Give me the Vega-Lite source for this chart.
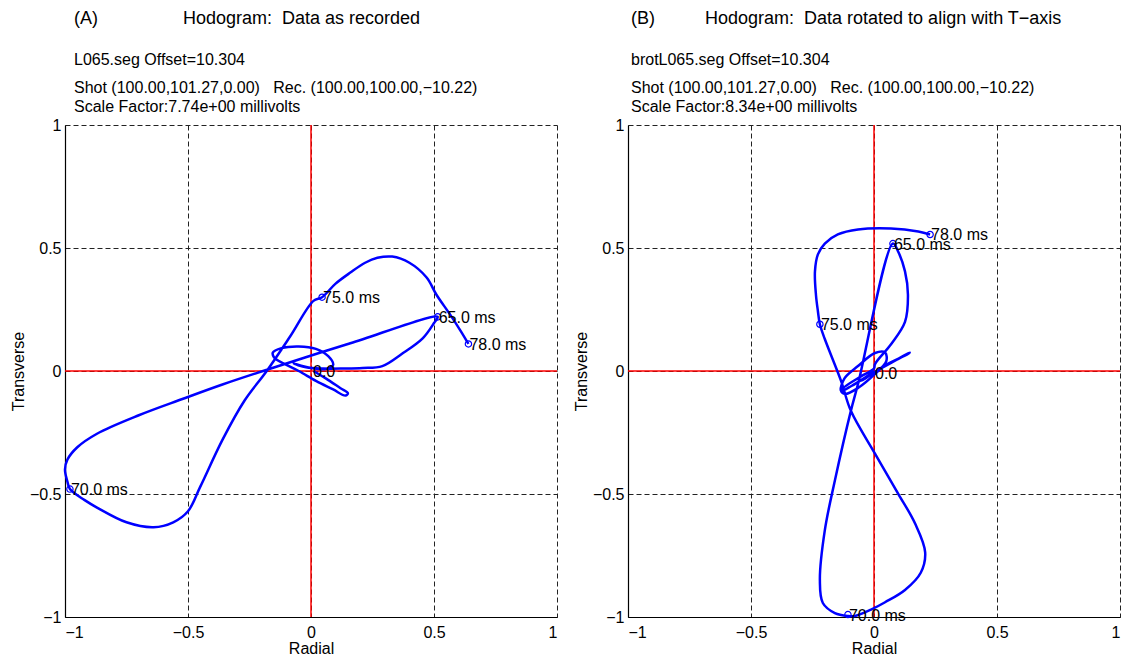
{
  "$schema": "https://vega.github.io/schema/vega-lite/v6.json",
  "background": "white",
  "padding": {"left": 10, "top": 10, "right": 4, "bottom": 0},
  "spacing": 15,
  "datasets": {
    "zero": [{"v": 0}],
    "a_path": [
      {"i": 0, "x": 0.01, "y": 0.0},
      {"i": 1, "x": 0.06, "y": -0.03},
      {"i": 2, "x": 0.12, "y": -0.07},
      {"i": 3, "x": 0.15, "y": -0.09},
      {"i": 4, "x": 0.14, "y": -0.1},
      {"i": 5, "x": 0.09, "y": -0.075},
      {"i": 6, "x": 0.02, "y": -0.04},
      {"i": 7, "x": -0.05, "y": 0.0},
      {"i": 8, "x": -0.11, "y": 0.03},
      {"i": 9, "x": -0.15, "y": 0.055},
      {"i": 10, "x": -0.155, "y": 0.075},
      {"i": 11, "x": -0.12, "y": 0.093},
      {"i": 12, "x": -0.05, "y": 0.1},
      {"i": 13, "x": 0.02, "y": 0.09},
      {"i": 14, "x": 0.07, "y": 0.06},
      {"i": 15, "x": 0.09, "y": 0.025},
      {"i": 16, "x": 0.06, "y": 0.008},
      {"i": 17, "x": 0.0, "y": 0.012},
      {"i": 18, "x": -0.07, "y": 0.03},
      {"i": 19, "x": -0.02, "y": 0.015},
      {"i": 20, "x": 0.05, "y": 0.01},
      {"i": 21, "x": 0.13, "y": 0.01},
      {"i": 22, "x": 0.21, "y": 0.012},
      {"i": 23, "x": 0.29, "y": 0.02},
      {"i": 24, "x": 0.37, "y": 0.07},
      {"i": 25, "x": 0.455, "y": 0.134},
      {"i": 26, "x": 0.5, "y": 0.195},
      {"i": 27, "x": 0.515, "y": 0.22},
      {"i": 28, "x": 0.16, "y": 0.113},
      {"i": 29, "x": -0.195, "y": 0.0},
      {"i": 30, "x": -0.36, "y": -0.055},
      {"i": 31, "x": -0.52, "y": -0.113},
      {"i": 32, "x": -0.7, "y": -0.18},
      {"i": 33, "x": -0.87, "y": -0.255},
      {"i": 34, "x": -0.95, "y": -0.31},
      {"i": 35, "x": -0.99, "y": -0.36},
      {"i": 36, "x": -1.0, "y": -0.4},
      {"i": 37, "x": -0.99, "y": -0.45},
      {"i": 38, "x": -0.98, "y": -0.48},
      {"i": 39, "x": -0.92, "y": -0.525},
      {"i": 40, "x": -0.87, "y": -0.555},
      {"i": 41, "x": -0.75, "y": -0.615},
      {"i": 42, "x": -0.64, "y": -0.635},
      {"i": 43, "x": -0.56, "y": -0.615},
      {"i": 44, "x": -0.5, "y": -0.57},
      {"i": 45, "x": -0.45, "y": -0.47},
      {"i": 46, "x": -0.36, "y": -0.28},
      {"i": 47, "x": -0.27, "y": -0.12},
      {"i": 48, "x": -0.18, "y": 0.0},
      {"i": 49, "x": -0.085, "y": 0.14},
      {"i": 50, "x": 0.01, "y": 0.285},
      {"i": 51, "x": 0.045, "y": 0.3},
      {"i": 52, "x": 0.1, "y": 0.355},
      {"i": 53, "x": 0.16, "y": 0.4},
      {"i": 54, "x": 0.22, "y": 0.44},
      {"i": 55, "x": 0.27, "y": 0.46},
      {"i": 56, "x": 0.33, "y": 0.465},
      {"i": 57, "x": 0.4, "y": 0.44},
      {"i": 58, "x": 0.47, "y": 0.38},
      {"i": 59, "x": 0.51, "y": 0.31},
      {"i": 60, "x": 0.565, "y": 0.23},
      {"i": 61, "x": 0.61, "y": 0.16},
      {"i": 62, "x": 0.64, "y": 0.11}
    ],
    "a_marks": [
      {"x": 0.004, "y": 0.0, "t": "0.0", "m": 0},
      {"x": 0.515, "y": 0.22, "t": "65.0 ms", "m": 1},
      {"x": -0.98, "y": -0.48, "t": "70.0 ms", "m": 1},
      {"x": 0.045, "y": 0.3, "t": "75.0 ms", "m": 1},
      {"x": 0.64, "y": 0.11, "t": "78.0 ms", "m": 1}
    ],
    "b_path": [
      {"i": 0, "x": 0.0, "y": 0.0},
      {"i": 1, "x": -0.05, "y": -0.04},
      {"i": 2, "x": 0.04, "y": 0.02},
      {"i": 3, "x": 0.138, "y": 0.069},
      {"i": 4, "x": 0.145, "y": 0.075},
      {"i": 5, "x": 0.1, "y": 0.05},
      {"i": 6, "x": -0.012, "y": -0.012},
      {"i": 7, "x": -0.09, "y": -0.06},
      {"i": 8, "x": -0.134, "y": -0.08},
      {"i": 9, "x": -0.12, "y": -0.03},
      {"i": 10, "x": -0.065, "y": 0.02},
      {"i": 11, "x": 0.004, "y": 0.073},
      {"i": 12, "x": 0.045, "y": 0.075},
      {"i": 13, "x": 0.05, "y": 0.04},
      {"i": 14, "x": 0.004, "y": -0.012},
      {"i": 15, "x": -0.065, "y": -0.069},
      {"i": 16, "x": -0.118, "y": -0.093},
      {"i": 17, "x": -0.134, "y": -0.08},
      {"i": 18, "x": -0.05, "y": -0.02},
      {"i": 19, "x": 0.0, "y": 0.01},
      {"i": 20, "x": 0.004, "y": 0.028},
      {"i": 21, "x": 0.07, "y": 0.11},
      {"i": 22, "x": 0.126, "y": 0.2},
      {"i": 23, "x": 0.138, "y": 0.31},
      {"i": 24, "x": 0.126, "y": 0.405},
      {"i": 25, "x": 0.098, "y": 0.486},
      {"i": 26, "x": 0.077, "y": 0.518},
      {"i": 27, "x": -0.065, "y": -0.053},
      {"i": 28, "x": -0.094, "y": -0.162},
      {"i": 29, "x": -0.159, "y": -0.445},
      {"i": 30, "x": -0.2, "y": -0.648},
      {"i": 31, "x": -0.22, "y": -0.85},
      {"i": 32, "x": -0.208, "y": -0.943},
      {"i": 33, "x": -0.159, "y": -0.984},
      {"i": 34, "x": -0.106, "y": -0.996},
      {"i": 35, "x": -0.077, "y": -0.996},
      {"i": 36, "x": -0.012, "y": -0.97},
      {"i": 37, "x": 0.045, "y": -0.94},
      {"i": 38, "x": 0.126, "y": -0.89},
      {"i": 39, "x": 0.19, "y": -0.82},
      {"i": 40, "x": 0.208, "y": -0.737},
      {"i": 41, "x": 0.167, "y": -0.62},
      {"i": 42, "x": 0.098, "y": -0.498},
      {"i": 43, "x": 0.004, "y": -0.336},
      {"i": 44, "x": -0.094, "y": -0.162},
      {"i": 45, "x": -0.134, "y": -0.04},
      {"i": 46, "x": -0.2, "y": 0.13},
      {"i": 47, "x": -0.22, "y": 0.19},
      {"i": 48, "x": -0.228, "y": 0.243},
      {"i": 49, "x": -0.236, "y": 0.31},
      {"i": 50, "x": -0.24, "y": 0.405},
      {"i": 51, "x": -0.228, "y": 0.474},
      {"i": 52, "x": -0.2, "y": 0.518},
      {"i": 53, "x": -0.147, "y": 0.555},
      {"i": 54, "x": -0.065, "y": 0.575},
      {"i": 55, "x": 0.069, "y": 0.579},
      {"i": 56, "x": 0.18, "y": 0.567},
      {"i": 57, "x": 0.228, "y": 0.555}
    ],
    "b_marks": [
      {"x": 0.0, "y": -0.01, "t": "0.0", "m": 0},
      {"x": 0.077, "y": 0.518, "t": "65.0 ms", "m": 1},
      {"x": -0.106, "y": -0.99, "t": "70.0 ms", "m": 1},
      {"x": -0.22, "y": 0.19, "t": "75.0 ms", "m": 1},
      {"x": 0.228, "y": 0.555, "t": "78.0 ms", "m": 1}
    ]
  },
  "hconcat": [
    {
      "width": 492,
      "height": 492,
      "title": {
        "text": "(A)\u00a0\u00a0\u00a0\u00a0\u00a0\u00a0\u00a0\u00a0\u00a0\u00a0\u00a0\u00a0\u00a0\u00a0\u00a0\u00a0\u00a0Hodogram:\u00a0\u00a0Data as recorded",
        "subtitle": ["L065.seg Offset=10.304", "\u200b", "\u200b", "Shot (100.00,101.27,0.00)\u00a0\u00a0\u00a0Rec. (100.00,100.00,\u221210.22)", "\u200b", "Scale Factor:7.74e+00 millivolts"],
        "dx": 9
      },
      "layer": [
        {"data": {"name": "zero"}, "mark": {"type": "rule", "color": "#ff0000", "strokeWidth": 1.5},
         "encoding": {"x": {"field": "v", "type": "quantitative", "title": "Radial", "scale": {"domain": [-1, 1], "nice": false, "zero": false}, "axis": {"values": [-1, -0.5, 0, 0.5, 1], "format": "~g"}}}},
        {"data": {"name": "zero"}, "mark": {"type": "rule", "color": "#ff0000", "strokeWidth": 1.5},
         "encoding": {"y": {"field": "v", "type": "quantitative", "title": "Transverse", "scale": {"domain": [-1, 1], "nice": false, "zero": false}, "axis": {"values": [-1, -0.5, 0, 0.5, 1], "format": "~g"}}}},
        {"data": {"name": "a_path"}, "mark": {"type": "line", "color": "#0000ff", "strokeWidth": 2.5, "strokeJoin": "round", "interpolate": "catmull-rom"},
         "encoding": {
           "x": {"field": "x", "type": "quantitative", "title": "Radial"},
           "y": {"field": "y", "type": "quantitative", "title": "Transverse"},
           "order": {"field": "i", "type": "quantitative"}}},
        {"data": {"name": "a_marks"}, "transform": [{"filter": "datum.m == 1"}],
         "mark": {"type": "point", "shape": "circle", "filled": false, "size": 40, "color": "#0000ff", "strokeWidth": 1.2, "opacity": 1},
         "encoding": {"x": {"field": "x", "type": "quantitative", "title": "Radial"}, "y": {"field": "y", "type": "quantitative", "title": "Transverse"}}},
        {"data": {"name": "a_marks"},
         "mark": {"type": "text", "align": "left", "baseline": "middle", "fontSize": 16, "dx": 1, "dy": 1, "color": "black"},
         "encoding": {"x": {"field": "x", "type": "quantitative", "title": "Radial"}, "y": {"field": "y", "type": "quantitative", "title": "Transverse"}, "text": {"field": "t"}}}
      ]
    },
    {
      "width": 492,
      "height": 492,
      "title": {
        "text": "(B)\u00a0\u00a0\u00a0\u00a0\u00a0\u00a0\u00a0\u00a0\u00a0\u00a0Hodogram:\u00a0\u00a0Data rotated to align with T\u2212axis",
        "subtitle": ["brotL065.seg Offset=10.304", "\u200b", "\u200b", "Shot (100.00,101.27,0.00)\u00a0\u00a0\u00a0Rec. (100.00,100.00,\u221210.22)", "\u200b", "Scale Factor:8.34e+00 millivolts"],
        "dx": 3
      },
      "layer": [
        {"data": {"name": "zero"}, "mark": {"type": "rule", "color": "#ff0000", "strokeWidth": 1.5},
         "encoding": {"x": {"field": "v", "type": "quantitative", "title": "Radial", "scale": {"domain": [-1, 1], "nice": false, "zero": false}, "axis": {"values": [-1, -0.5, 0, 0.5, 1], "format": "~g"}}}},
        {"data": {"name": "zero"}, "mark": {"type": "rule", "color": "#ff0000", "strokeWidth": 1.5},
         "encoding": {"y": {"field": "v", "type": "quantitative", "title": "Transverse", "scale": {"domain": [-1, 1], "nice": false, "zero": false}, "axis": {"values": [-1, -0.5, 0, 0.5, 1], "format": "~g"}}}},
        {"data": {"name": "b_path"}, "mark": {"type": "line", "color": "#0000ff", "strokeWidth": 2.5, "strokeJoin": "round", "interpolate": "catmull-rom"},
         "encoding": {
           "x": {"field": "x", "type": "quantitative", "title": "Radial"},
           "y": {"field": "y", "type": "quantitative", "title": "Transverse"},
           "order": {"field": "i", "type": "quantitative"}}},
        {"data": {"name": "b_marks"}, "transform": [{"filter": "datum.m == 1"}],
         "mark": {"type": "point", "shape": "circle", "filled": false, "size": 40, "color": "#0000ff", "strokeWidth": 1.2, "opacity": 1},
         "encoding": {"x": {"field": "x", "type": "quantitative", "title": "Radial"}, "y": {"field": "y", "type": "quantitative", "title": "Transverse"}}},
        {"data": {"name": "b_marks"},
         "mark": {"type": "text", "align": "left", "baseline": "middle", "fontSize": 16, "dx": 1, "dy": 1, "color": "black"},
         "encoding": {"x": {"field": "x", "type": "quantitative", "title": "Radial"}, "y": {"field": "y", "type": "quantitative", "title": "Transverse"}, "text": {"field": "t"}}}
      ]
    }
  ],
  "config": {
    "font": "Liberation Sans",
    "view": {"stroke": null},
    "axis": {
      "grid": true,
      "gridColor": "#222222",
      "gridDash": [5, 3],
      "gridWidth": 1,
      "domainColor": "black",
      "domainWidth": 1.2,
      "tickSize": 0,
      "labelFontSize": 16,
      "titleFontSize": 16,
      "titleFontWeight": "normal",
      "labelColor": "black",
      "titleColor": "black",
      "labelFont": "Liberation Sans",
      "titleFont": "Liberation Sans"
    },
    "axisX": {"labelPadding": 7, "titlePadding": 0},
    "axisY": {"labelPadding": 4, "titlePadding": 3},
    "title": {
      "anchor": "start",
      "frame": "group",
      "fontSize": 18,
      "fontWeight": "normal",
      "color": "black",
      "subtitleColor": "black",
      "subtitleFontSize": 16,
      "subtitleLineHeight": 9.33,
      "subtitlePadding": 24,
      "offset": 2
    }
  }
}
